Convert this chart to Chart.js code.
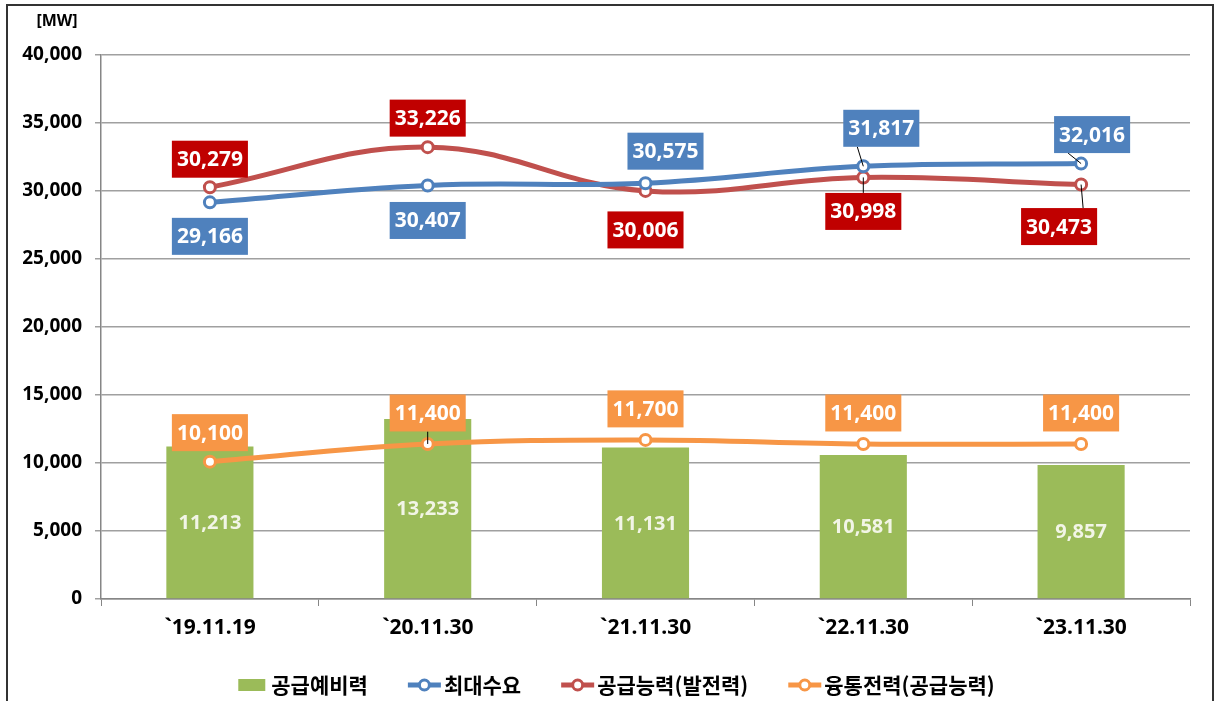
<!DOCTYPE html>
<html>
<head>
<meta charset="utf-8">
<script src="https://cdn.jsdelivr.net/npm/chart.js@4"></script>
<style>
  html, body { margin: 0; padding: 0; background: #fff; }
  #wrap { position: relative; width: 1215px; height: 701px; overflow: hidden; }
  #frame { position: absolute; left: 6px; top: 4px; width: 1208px; height: 710px; border: 2px solid #333; box-sizing: border-box; }
  canvas { position: absolute; left: 0; top: 0; }
</style>
</head>
<body>
<div id="wrap">
  <div id="frame"></div>
  <canvas id="chart" width="1215" height="701"></canvas>
</div>
<script>
// Data
const categories = ['`19.11.19', '`20.11.30', '`21.11.30', '`22.11.30', '`23.11.30'];
const reserveMargin = [11213, 13233, 11131, 10581, 9857];       // 공급예비력
const peakDemand = [29166, 30407, 30575, 31817, 32016];         // 최대수요
const supplyCapacity = [30279, 33226, 30006, 30998, 30473];     // 공급능력(발전력)
const interchange = [10100, 11400, 11700, 11400, 11400];        // 융통전력(공급능력)
const yTickValues = [0, 5000, 10000, 15000, 20000, 25000, 30000, 35000, 40000];

// Label placement relative to each point: [dx, dy, leader line]
const demandLabelPos = [[0, 34, false], [0, 35, false], [20, -32, false], [18, -38, true], [11, -29, true]];
const supplyLabelPos = [[0, -28, false], [0, -29, false], [0, 39, false], [0, 34, true], [-22, 42, true]];
const interLabelPos = [[0, -29, false], [0, -31, true], [0, -31, false], [0, -31, false], [0, -31, false]];

const FONT = '"Noto Sans", "Noto Sans CJK KR", sans-serif';
const KFONT = '"Noto Sans CJK KR", "Noto Sans", sans-serif';
const fmt = v => v.toLocaleString('en-US');

const colors = {
    bar: '#9BBB59',
    demand: '#4F81BD',
    supply: '#C0504D',
    inter: '#F79646',
    demandBox: '#4F81BD',
    supplyBox: '#C00000',
    interBox: '#F79646'
};

// Boxed value labels + bar labels + legend + unit
const labelPlugin = {
    id: 'labelPlugin',
    afterDatasetsDraw(chart) {
        const c = chart.ctx;
        c.save();

        // bar labels (centered in bar)
        const barMeta = chart.getDatasetMeta(0);
        c.font = 'bold 20px ' + FONT;
        c.fillStyle = '#f2f5e6';
        c.textAlign = 'center';
        c.textBaseline = 'middle';
        barMeta.data.forEach((el, i) => {
            c.fillText(fmt(reserveMargin[i]), el.x, (el.y + el.base) / 2 + 1);
        });

        const groups = [
            { idx: 1, values: peakDemand, pos: demandLabelPos, box: colors.demandBox },
            { idx: 2, values: supplyCapacity, pos: supplyLabelPos, box: colors.supplyBox },
            { idx: 3, values: interchange, pos: interLabelPos, box: colors.interBox }
        ];
        c.font = 'bold 21px ' + FONT;
        groups.forEach(g => {
            const meta = chart.getDatasetMeta(g.idx);
            meta.data.forEach((pt, i) => {
                const [dx, dy, leader] = g.pos[i];
                const text = fmt(g.values[i]);
                const w = c.measureText(text).width + 10;
                const h = 37;
                const cx = pt.x + dx;
                const cy = pt.y + dy;
                if (leader) {
                    const ey = dy < 0 ? cy + h / 2 : cy - h / 2;
                    let ex = cx;
                    if (Math.abs(dx) > 5) ex = cx - Math.sign(dx) * (w / 2 - 14);
                    c.strokeStyle = '#000';
                    c.lineWidth = 1;
                    c.beginPath();
                    c.moveTo(pt.x, pt.y);
                    c.lineTo(ex, ey);
                    c.stroke();
                }
                c.fillStyle = g.box;
                c.fillRect(cx - w / 2, cy - h / 2, w, h);
                c.fillStyle = '#fff';
                c.fillText(text, cx, cy + 1);
            });
        });

        // unit
        c.font = 'bold 16px ' + FONT;
        c.fillStyle = '#000';
        c.fillText('[MW]', 57, 21);

        // legend
        const items = [
            { type: 'bar', color: colors.bar, text: '공급예비력' },
            { type: 'line', color: colors.demand, text: '최대수요' },
            { type: 'line', color: colors.supply, text: '공급능력(발전력)' },
            { type: 'line', color: colors.inter, text: '융통전력(공급능력)' }
        ];
        c.font = 'bold 21px ' + KFONT;
        const iconW = 33, gapIcon = 3, gapItem = 40;
        let total = 0;
        items.forEach((it, i) => {
            it.w = c.measureText(it.text).width;
            total += iconW + gapIcon + it.w + (i < items.length - 1 ? gapItem : 0);
        });
        let x = 615 - total / 2;
        const ly = 685;
        c.textAlign = 'left';
        items.forEach(it => {
            if (it.type === 'bar') {
                c.fillStyle = it.color;
                c.fillRect(x + 3, ly - 6, 27, 12);
            } else {
                c.strokeStyle = it.color;
                c.lineWidth = 5;
                c.beginPath();
                c.moveTo(x, ly);
                c.lineTo(x + iconW, ly);
                c.stroke();
                c.fillStyle = '#fff';
                c.lineWidth = 3;
                c.beginPath();
                c.arc(x + iconW / 2, ly, 5, 0, Math.PI * 2);
                c.fill();
                c.stroke();
            }
            c.fillStyle = '#000';
            c.fillText(it.text, x + iconW + gapIcon, ly);
            x += iconW + gapIcon + it.w + gapItem;
        });
        c.restore();
    }
};

const lineDataset = (label, data, color) => ({
    type: 'line',
    label: label,
    data: data,
    borderColor: color,
    backgroundColor: '#fff',
    borderWidth: 5,
    tension: 0.4,
    pointRadius: 5.5,
    pointBorderWidth: 3,
    pointBackgroundColor: '#fff',
    pointBorderColor: color,
    order: 1
});

const ctx = document.getElementById('chart').getContext('2d');
const chart = new Chart(ctx, {
    data: {
        labels: categories,
        datasets: [
            {
                type: 'bar',
                label: '공급예비력',
                data: reserveMargin,
                backgroundColor: colors.bar,
                barPercentage: 0.8,
                categoryPercentage: 0.5,
                order: 2
            },
            lineDataset('최대수요', peakDemand, colors.demand),
            lineDataset('공급능력(발전력)', supplyCapacity, colors.supply),
            lineDataset('융통전력(공급능력)', interchange, colors.inter)
        ]
    },
    options: {
        responsive: false,
        animation: false,
        layout: { padding: { left: 0, right: 25, top: 55, bottom: 52 } },
        plugins: {
            legend: { display: false },
            tooltip: { enabled: false }
        },
        scales: {
            x: {
                offset: true,
                grid: {
                    offset: true,
                    drawOnChartArea: false,
                    drawTicks: true,
                    tickLength: 7,
                    color: '#868686'
                },
                border: { color: '#868686', width: 1.5 },
                ticks: {
                    color: '#000',
                    padding: 9,
                    font: { family: FONT, size: 21, weight: 'bold' }
                },
                afterFit(scale) { scale.height = 50; }
            },
            y: {
                min: 0,
                max: 40000,
                afterBuildTicks(scale) {
                    scale.ticks = yTickValues.map(v => ({ value: v }));
                },
                grid: {
                    color: '#a0a0a0',
                    lineWidth: 1.5,
                    tickLength: 6
                },
                border: { color: '#868686', width: 1.5 },
                ticks: {
                    color: '#000',
                    padding: 13,
                    font: { family: FONT, size: 19, weight: 'bold' },
                    callback: v => fmt(v)
                },
                afterFit(scale) { scale.width = 101; }
            }
        }
    },
    plugins: [labelPlugin]
});
</script>
</body>
</html>
